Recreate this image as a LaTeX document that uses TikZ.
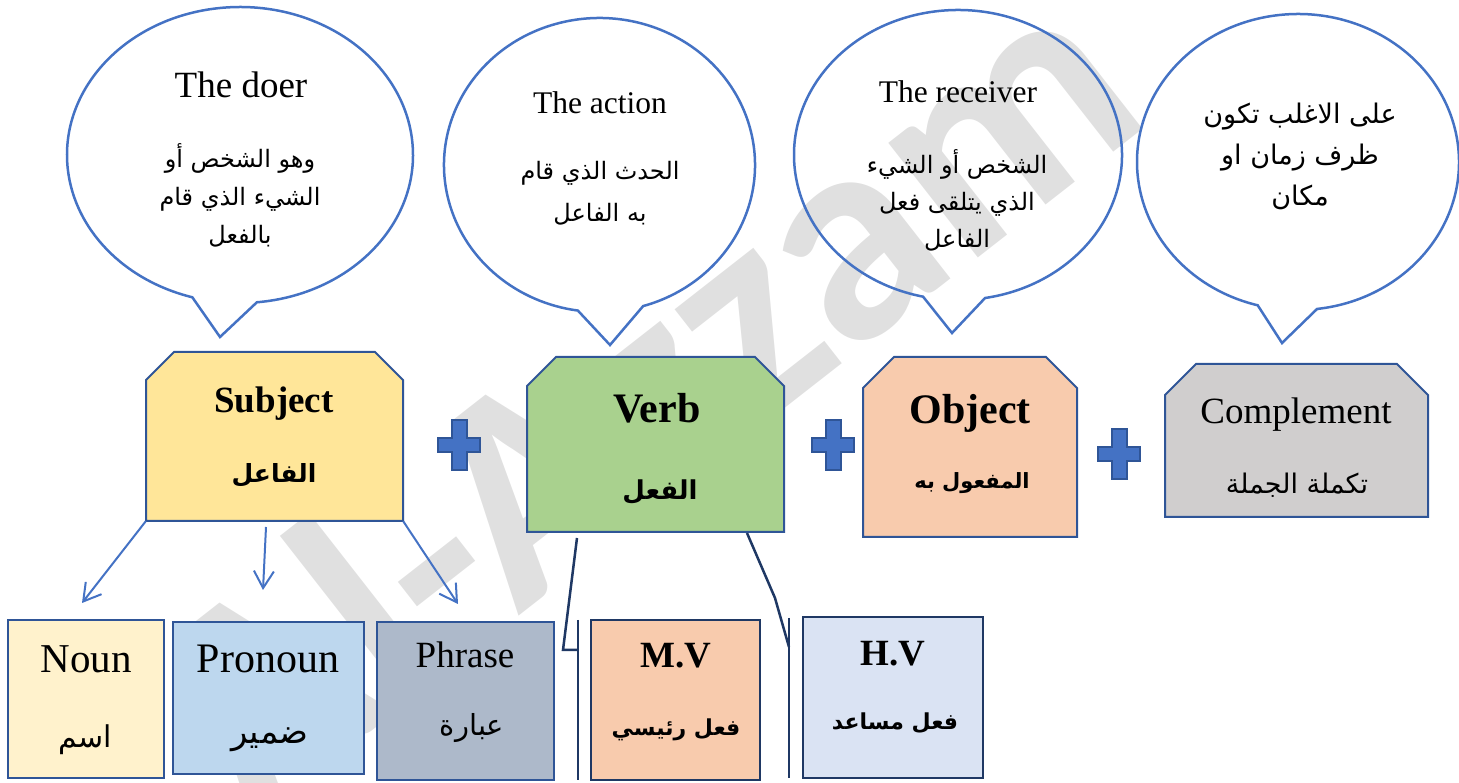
\documentclass[tikz,border=0pt]{standalone}
\usepackage{fontspec}
\setmainfont{Liberation Serif}
\newfontfamily\arabicfont[Script=Arabic]{DejaVu Sans}
\newfontfamily\wmfont{Carlito}
\TeXXeTstate=1
\usetikzlibrary{arrows.meta}
\newcommand\artxt[1]{{\arabicfont\beginR #1\endR}}
\newcommand\fsz[2]{\fontsize{#1}{#2}\selectfont}
\definecolor{bub}{HTML}{4472C4}
\definecolor{bord}{HTML}{2F5597}
\definecolor{navy}{HTML}{1F3864}
\definecolor{subjf}{HTML}{FFE699}
\definecolor{verbf}{HTML}{A9D18E}
\definecolor{objf}{HTML}{F8CBAD}
\definecolor{compf}{HTML}{D0CECE}
\definecolor{nounf}{HTML}{FFF2CC}
\definecolor{pronf}{HTML}{BDD7EE}
\definecolor{phrf}{HTML}{ADB9CA}
\definecolor{hvf}{HTML}{DAE3F3}
\definecolor{wm}{HTML}{E0E0E0}
\definecolor{plusf}{HTML}{4472C4}
\newcommand\callout[8]{%
  \draw[bubble] (#1,#2) ++(#5:#3 and #4) arc[start angle=#5, end angle=#6, x radius=#3, y radius=#4] -- (#7,#8) -- cycle;}
\newcommand\chbox[8]{% name x1 ybottom x2 ytop chamfer fill border
  \filldraw[draw=#8, line width=2pt, fill=#7] (#2,{#5-#6}) -- ({#2+#6},#5) -- ({#4-#6},#5) -- (#4,{#5-#6}) -- (#4,#3) -- (#2,#3) -- cycle;
  \node[inner sep=0pt, minimum width={#4-#2}, minimum height={#5-#3}] (#1) at ({(#2+#4)/2},{(#3+#5)/2}) {};}
\newcommand\rbox[7]{% name x1 ybottom x2 ytop fill border
  \node[draw=#7, line width=2pt, fill=#6, inner sep=0pt, minimum width={#4-#2}, minimum height={#5-#3}] (#1) at ({(#2+#4)/2},{(#3+#5)/2}) {};}
\newcommand\plussign[2]{%
  \filldraw[draw=bord, line width=2pt, fill=plusf] (#1,#2) ++(-7.5,25) -- ++(15,0) -- ++(0,-18) -- ++(13.5,0) -- ++(0,-14) -- ++(-13.5,0) -- ++(0,-18) -- ++(-15,0) -- ++(0,18) -- ++(-13.5,0) -- ++(0,14) -- ++(13.5,0) -- cycle;}
\begin{document}
\begin{tikzpicture}[x=1pt,y=1pt,
  bubble/.style={draw=bub, line width=2.5pt},
  arr/.style={draw=bub, line width=2pt, -{Straight Barb[length=17pt,width=20pt,line width=2pt]}},
  vconn/.style={draw=navy, line width=2.5pt},
  ttl/.style={anchor=base, inner sep=0pt},
  artx/.style={inner sep=0pt, align=center}]
\useasboundingbox (0,0) rectangle (1459,782);
% watermark
\node[rotate=38, font=\wmfont\bfseries\fsz{300}{300}, text=wm, inner sep=0pt] (wmark) at (640,392) {Al-Azzam};
% callouts
\callout{240}{627}{173}{148}{-84.4}{254}{220}{445}
\callout{599.5}{617}{155.5}{147}{-73.7}{262}{610}{437}
\callout{958}{627}{164}{145}{-80.5}{257.7}{952}{449}
\callout{1298}{620}{161}{148}{-83.2}{255.5}{1282}{439}
% callout texts
\node[ttl, font=\fsz{37}{37}] (doerT) at (241,684) {The doer};
\node[artx, font=\fsz{24}{38}] (doerA) at (240,587) {\artxt{وهو الشخص أو}\\\artxt{الشيء الذي قام}\\\artxt{بالفعل}};
\node[ttl, font=\fsz{31.5}{31.5}] (actT) at (600,668) {The action};
\node[artx, font=\fsz{24}{42}] (actA) at (600,589) {\artxt{الحدث الذي قام}\\\artxt{به الفاعل}};
\node[ttl, font=\fsz{31.5}{31.5}] (recT) at (958,679) {The receiver};
\node[artx, font=\fsz{24}{37}] (recA) at (957,582) {\artxt{الشخص أو الشيء}\\\artxt{الذي يتلقى فعل}\\\artxt{الفاعل}};
\node[artx, font=\fsz{27}{41}] (compA) at (1300,626) {\artxt{على الاغلب تكون}\\\artxt{ظرف زمان او}\\\artxt{مكان}};
% main boxes
\chbox{subj}{146}{261}{403}{430}{28}{subjf}{bord}
\chbox{verb}{527}{250}{784}{425}{29}{verbf}{bord}
\chbox{obj}{863}{245}{1077}{425}{31}{objf}{bord}
\chbox{comp}{1165}{265}{1428}{418}{31}{compf}{bord}
\node[ttl, font=\fsz{37}{37}\bfseries] (subjT) at (274,369) {Subject};
\node[artx, font=\fsz{25}{25}\bfseries] (subjA) at (274,307) {\artxt{الفاعل}};
\node[ttl, font=\fsz{42}{42}\bfseries] (verbT) at (657,359) {Verb};
\node[artx, font=\fsz{26}{26}\bfseries] (verbA) at (660,290) {\artxt{الفعل}};
\node[ttl, font=\fsz{42}{42}\bfseries] (objT) at (970,358) {Object};
\node[artx, font=\fsz{21}{21}\bfseries] (objA) at (972,299) {\artxt{المفعول به}};
\node[ttl, font=\fsz{37}{37}] (compT) at (1296,358) {Complement};
\node[artx, font=\fsz{27}{27}] (compB) at (1297,297) {\artxt{تكملة الجملة}};
% plus signs
\plussign{459}{337}
\plussign{833}{337}
\plussign{1119}{328}
% bottom boxes
\rbox{noun}{8}{4}{164}{162}{nounf}{bord}
\rbox{pron}{173}{8}{364}{160}{pronf}{bord}
\rbox{phr}{377}{2}{554}{160}{phrf}{bord}
\rbox{mv}{591}{2}{760}{162}{objf}{navy}
\rbox{hv}{803}{4}{983}{165}{hvf}{navy}
\node[ttl, font=\fsz{41}{41}] (nounT) at (86,109) {Noun};
\node[artx, font=\fsz{30}{30}] (nounA) at (85,42) {\artxt{اسم}};
\node[ttl, font=\fsz{42}{42}] (pronT) at (268,109) {Pronoun};
\node[artx, font=\fsz{34}{34}] (pronA) at (270,42) {\artxt{ضمير}};
\node[ttl, font=\fsz{37}{37}] (phrT) at (465,114) {Phrase};
\node[artx, font=\fsz{29}{29}] (phrA) at (472,54) {\artxt{عبارة}};
\node[ttl, font=\fsz{37}{37}\bfseries] (mvT) at (676,114) {M.V};
\node[artx, font=\fsz{22}{22}\bfseries] (mvA) at (676,52) {\artxt{فعل رئيسي}};
\node[ttl, font=\fsz{37}{37}\bfseries] (hvT) at (893,117) {H.V};
\node[artx, font=\fsz{22}{22}\bfseries] (hvA) at (895,59) {\artxt{فعل مساعد}};
% subject arrows
\coordinate (nounend) at (82,179);
\coordinate (pronend) at (263,192);
\coordinate (phrend) at (458,178);
\coordinate (submid) at (266,255);
\draw[arr] (subj.south west) -- (nounend);
\draw[arr] (submid) -- (pronend);
\draw[arr] (subj.south east) -- (phrend);
% verb connectors
\coordinate (vl0) at (577,244);
\coordinate (vl1) at (563,132);
\coordinate (mvbar) at (578,132);
\coordinate (mvtop) at (578,162);
\coordinate (mvbot) at (578,2);
\coordinate (vr0) at (747,249);
\coordinate (vr1) at (775,184);
\coordinate (hvbar) at (789,135);
\coordinate (hvtop) at (789,164);
\coordinate (hvbot) at (789,4);
\draw[vconn] (vl0) -- (vl1) -- (mvbar);
\draw[vconn] (mvtop) -- (mvbot);
\draw[vconn] (vr0) -- (vr1) -- (hvbar);
\draw[vconn] (hvtop) -- (hvbot);
\end{tikzpicture}
\end{document}
